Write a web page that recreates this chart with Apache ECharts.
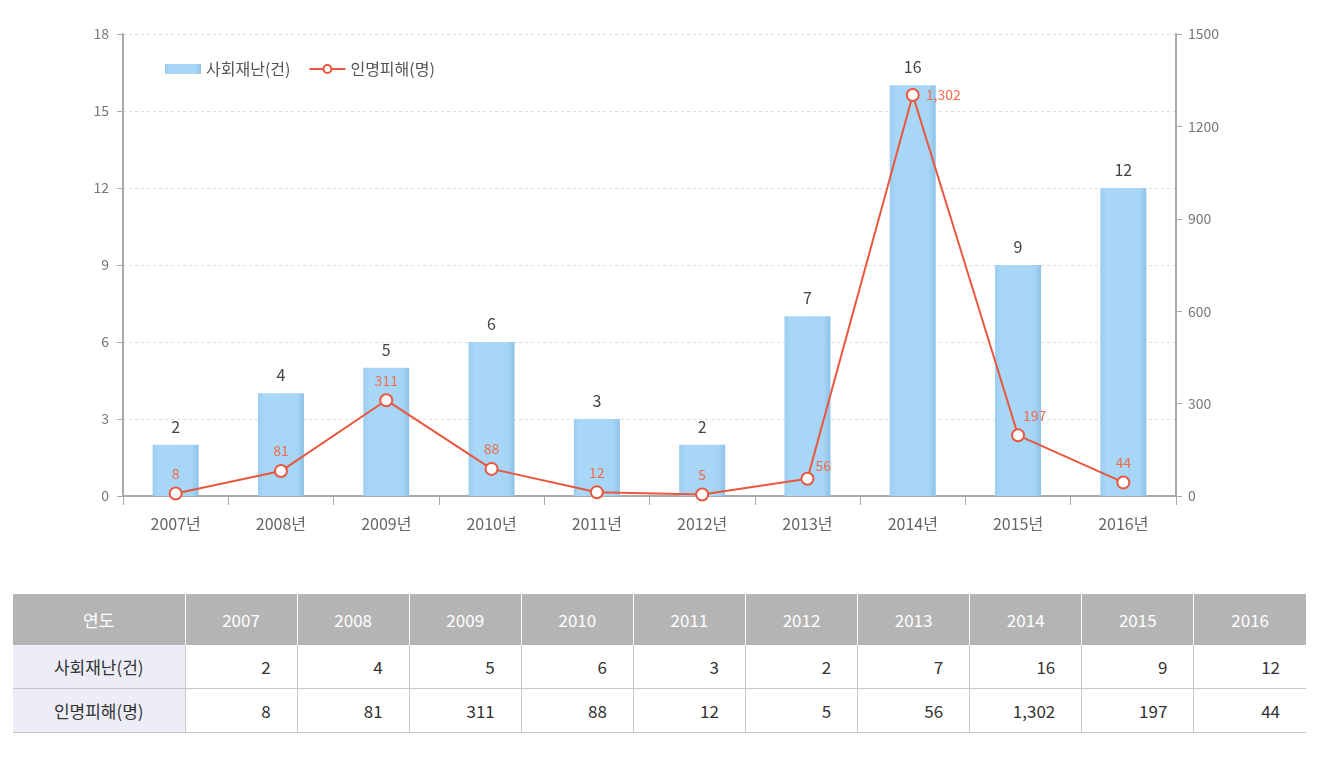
<!DOCTYPE html>
<html><head><meta charset="utf-8">
<script src="https://cdn.jsdelivr.net/npm/echarts@6/dist/echarts.min.js"></script>
<style>
html,body{margin:0;padding:0;background:#fff;font-family:"Noto Sans CJK KR","Noto Sans",sans-serif;}
#chart{position:absolute;left:0;top:0;width:1325px;height:570px;}
#tbl{position:absolute;left:13px;top:594px;width:1293px;border-collapse:collapse;table-layout:fixed;font-size:17px;color:#333;}
#tbl th{background:#b4b4b4;color:#fff;font-weight:normal;height:51px;border-left:1px solid #fff;padding:0;}
#tbl th:first-child{border-left:none;}
#tbl td{height:43px;border-bottom:1px solid #c8c8c8;border-left:1px solid #c8c8c8;text-align:right;padding:0 26px 0 0;}
#tbl td.h{background:#ededf8;text-align:center;padding:0;border-left:none;}
</style></head>
<body>
<div id="chart"></div>
<table id="tbl"></table>
<script>
const years = ['2007','2008','2009','2010','2011','2012','2013','2014','2015','2016'];
const categories = years.map(y => y + '년');
const disasters = [2,4,5,6,3,2,7,16,9,12];
const casualties = [8,81,311,88,12,5,56,1302,197,44];
const leftTicks = {min:0,max:18,interval:3};
const rightTicks = {min:0,max:1500,interval:300};
const seriesNames = ['사회재난(건)','인명피해(명)'];
const headerLabel = '연도';

const fmt = v => v.toLocaleString('en-US');
const labelPos = ['top','top','top','top','top','top',[15,-13],'right',[12,-20],'top'];

const chart = echarts.init(document.getElementById('chart'));
chart.setOption({
  animation:false,
  textStyle:{fontFamily:'"Noto Sans CJK KR","Noto Sans",sans-serif'},
  legend:{left:160,top:56,itemGap:18,itemWidth:36,itemHeight:10,
    textStyle:{fontSize:16,color:'#555'},
    data:[{name:seriesNames[0],icon:'rect'},{name:seriesNames[1]}]},
  grid:{left:123,right:149,top:34,height:462},
  xAxis:{type:'category',data:categories,
    axisLine:{lineStyle:{color:'#aaa',width:2}},
    axisTick:{show:true,length:9,lineStyle:{color:'#aaa'}},
    axisLabel:{color:'#666',fontSize:16,margin:20}},
  yAxis:[
    {type:'value',min:leftTicks.min,max:leftTicks.max,interval:leftTicks.interval,
     axisLine:{show:true,lineStyle:{color:'#aaa',width:2}},
     axisTick:{show:true,length:6,lineStyle:{color:'#aaa'}},
     axisLabel:{color:'#777',fontSize:14,margin:14},
     splitLine:{lineStyle:{color:'#ddd',type:[3,3]}}},
    {type:'value',min:rightTicks.min,max:rightTicks.max,interval:rightTicks.interval,
     axisLine:{show:true,lineStyle:{color:'#aaa',width:2}},
     axisTick:{show:true,length:6,lineStyle:{color:'#aaa'}},
     axisLabel:{color:'#777',fontSize:14,margin:12,formatter:v=>String(v)},
     splitLine:{show:false}}
  ],
  series:[
    {name:seriesNames[0],type:'bar',data:disasters,barWidth:46,yAxisIndex:0,
     itemStyle:{color:new echarts.graphic.LinearGradient(0,0,1,0,[
        {offset:0,color:'#9ccdf1'},{offset:0.15,color:'#a9d7f7'},
        {offset:0.85,color:'#a6d5f6'},{offset:1,color:'#8ec2e8'}])},
     label:{show:true,position:'top',color:'#444',fontSize:16,distance:10}},
    {name:seriesNames[1],type:'line',yAxisIndex:1,
     data:casualties.map((v,i)=>({value:v,label:{position:labelPos[i]}})),
     lineStyle:{color:'#e9573f',width:2},
     itemStyle:{color:'#fff',borderColor:'#e9573f',borderWidth:2},
     symbol:'circle',symbolSize:12,
     label:{show:true,color:'#f26a4b',fontSize:14,distance:6,formatter:p=>fmt(p.value)}}
  ]
});

const tbl = document.getElementById('tbl');
let html = '<colgroup><col style="width:172px">' + years.map(()=>'<col>').join('') + '</colgroup>';
html += '<tr><th>'+headerLabel+'</th>' + years.map(y=>'<th>'+y+'</th>').join('') + '</tr>';
html += '<tr><td class="h">'+seriesNames[0]+'</td>' + disasters.map(v=>'<td>'+fmt(v)+'</td>').join('') + '</tr>';
html += '<tr><td class="h">'+seriesNames[1]+'</td>' + casualties.map(v=>'<td>'+fmt(v)+'</td>').join('') + '</tr>';
tbl.innerHTML = html;
</script>
</body></html>
